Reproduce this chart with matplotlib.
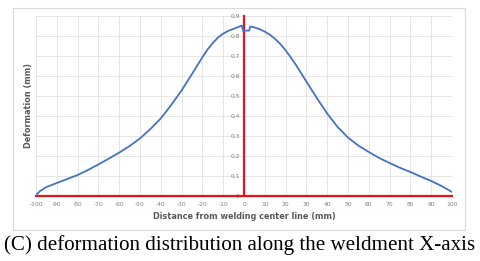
import matplotlib.pyplot as plt
from matplotlib.patches import Rectangle

plt.rcParams['axes.unicode_minus'] = False

# distance from welding center line (mm) and deformation (mm)
dist = [-100, -98, -95, -90, -85, -80, -75, -70, -65, -60, -55, -50, -45, -40,
        -35, -30, -25, -20, -17.5, -15, -12.5, -10, -7.5, -5, -2, -1, -0.5,
        2.5, 3, 5, 7.5, 10, 12.5, 15, 17.5, 20, 22.5, 25, 30, 35, 40, 45, 50,
        55, 60, 65, 70, 75, 80, 85, 90, 95, 100]
deform = [0.005, 0.025, 0.045, 0.065, 0.085, 0.105, 0.13, 0.158, 0.187, 0.217,
          0.25, 0.288, 0.335, 0.388, 0.455, 0.528, 0.61, 0.694, 0.733, 0.765,
          0.792, 0.812, 0.826, 0.836, 0.848, 0.852, 0.827, 0.827, 0.847, 0.843,
          0.834, 0.822, 0.806, 0.785, 0.76, 0.728, 0.693, 0.655, 0.572, 0.49,
          0.412, 0.345, 0.292, 0.252, 0.22, 0.19, 0.165, 0.141, 0.12, 0.097,
          0.075, 0.05, 0.02]

xticks = list(range(-100, 101, 10))
yticks = [0, 0.1, 0.2, 0.3, 0.4, 0.5, 0.6, 0.7, 0.8, 0.9]
ylabels = ['0'] + ['%.1f' % v for v in yticks[1:]]

fig = plt.figure(figsize=(4.8, 2.61), dpi=100)
fig.patches.append(Rectangle((0.027, 0.119), 0.9417, 0.8506, transform=fig.transFigure,
                             fill=False, edgecolor='#d9d9d9', lw=0.8))

ax = fig.add_axes([0.075, 0.249, 0.8667, 0.6897])
ax.set_xlim(-100, 100)
ax.set_ylim(0, 0.9)
ax.set_xticks(xticks)
ax.set_yticks(yticks)
ax.set_yticklabels(ylabels)
ax.grid(True, color='#e6e6e6', lw=0.7)
ax.set_axisbelow(True)

for s in ['top', 'right', 'left']:
    ax.spines[s].set_visible(False)
ax.spines['bottom'].set_color('#e8141c')
ax.spines['bottom'].set_linewidth(1.6)
ax.spines['left'].set_position(('data', 0))
ax.spines['left'].set_visible(True)
ax.spines['left'].set_color('#e8141c')
ax.spines['left'].set_linewidth(1.6)
ax.tick_params(length=0, labelsize=4.3, labelcolor='#7f7f7f', pad=4)
ax.tick_params(axis='y', pad=3)

ax.plot(dist, deform, color='#4472c4', lw=1.3, zorder=3, solid_joinstyle='round')

ax.set_xlabel('Distance from welding center line (mm)', fontsize=5.9, fontweight='bold',
              color='#595959', labelpad=4)
fig.text(0.06, 0.594, 'Deformation (mm)', rotation='vertical', va='center', ha='center',
         fontsize=5.9, fontweight='bold', color='#595959')

fig.text(0.5, 0.06, '(C) deformation distribution along the weldment X-axis',
         ha='center', va='center', fontsize=15.1, family='Liberation Serif', color='black')

plt.savefig('out.png', dpi=100)
